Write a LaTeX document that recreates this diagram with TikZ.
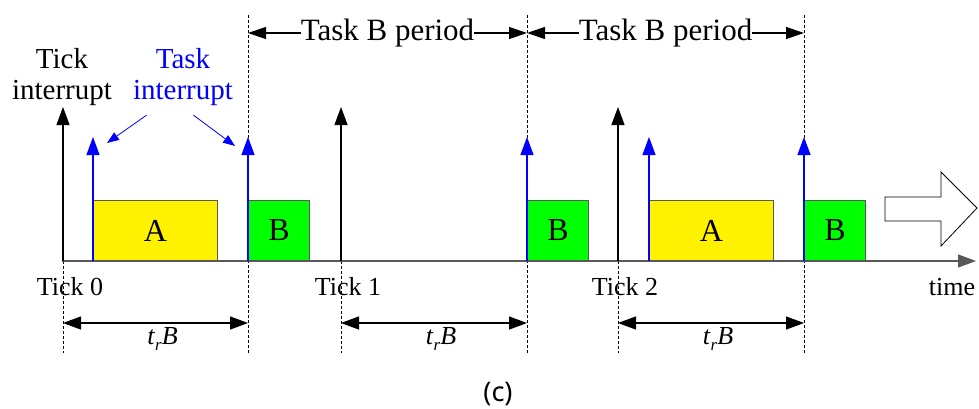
\documentclass[tikz,border=0pt]{standalone}
\usepackage{fontspec}
\setmainfont{Liberation Serif}
\newfontfamily\capfont{Noto Sans}
\usetikzlibrary{arrows.meta}

\begin{document}
\begin{tikzpicture}[x=1pt, y=-1pt, >={Triangle[length=18pt,width=13pt]},
	task/.style={draw=black!65, line width=1pt, minimum height=60pt, inner sep=0pt, anchor=south west, font=\fontsize{32}{36}\selectfont},
	taskA/.style={task, fill=yellow, minimum width=124pt},
	taskB/.style={task, fill=green, minimum width=61pt},
	guide/.style={line width=0.7pt, dash pattern=on 3pt off 2pt},
	tickirq/.style={->, line width=1.2pt},
	taskirq/.style={->, blue, line width=1.2pt},
	span/.style={<->, line width=1.2pt},
	small/.style={font=\fontsize{26}{30}\selectfont},
	big/.style={font=\fontsize{29}{35}\selectfont}]
	\useasboundingbox (0,0) rectangle (979,408);
	% guide lines
	\foreach \x in {248,527,804} \draw[guide] (\x,15) -- (\x,353);
	\foreach \x in {63,341,618} \draw[guide] (\x,261) -- (\x,353);
	% time axis
	\coordinate (o) at (62,261);
	\coordinate (tend) at (976,261);
	\draw[->, black!65, line width=1.2pt] (o) -- (tend);
	\node[small] (time) at (952,287) {time};
	% tasks
	\node[taskA] (A1) at (93,261) {A};
	\node[taskB] (B1) at (248,261) {B};
	\node[taskB] (B2) at (527,261) {B};
	\node[taskA] (A2) at (649,261) {A};
	\node[taskB] (B3) at (804,261) {B};
	% tick interrupts
	\foreach \x/\n in {63/0,341/1,618/2} {
		\coordinate (t\n) at (\x,261);
		\coordinate (t\n top) at (\x,107);
		\draw[tickirq] (t\n) -- (t\n top);
		\node[small] (tick\n) at (\x+7,287) {Tick \n};
	}
	% task interrupts
	\foreach \x [count=\i] in {93,248,527,649,804} {
		\coordinate (s\i) at (\x,261);
		\coordinate (s\i top) at (\x,137);
		\draw[taskirq] (s\i) -- (s\i top);
	}
	% labels
	\node[big, align=center] (tickint) at (62,77) {Tick\\[-4pt]interrupt};
	\node[big, align=center, blue] (taskint) at (183,77) {Task\\[-4pt]interrupt};
	\coordinate (p1) at (107,143);
	\coordinate (p2) at (235,146);
	\draw[->, blue, line width=0.8pt, >={Triangle[length=12pt,width=9pt]}] (taskint.south west) ++(17,6) -- (p1);
	\draw[->, blue, line width=0.8pt, >={Triangle[length=12pt,width=9pt]}] (taskint.south east) ++(-43,6) -- (p2);
	% periods
	\coordinate (q1) at (248,33);
	\coordinate (q2) at (527,33);
	\coordinate (q3) at (804,33);
	\draw[span, >={Triangle[length=18pt,width=12pt]}] (q1) -- node[font=\fontsize{31}{36}\selectfont, fill=white, inner sep=0pt] (per1) {Task B period} (q2);
	\draw[span, >={Triangle[length=18pt,width=12pt]}] (q2) -- node[font=\fontsize{31}{36}\selectfont, fill=white, inner sep=0pt] (per2) {Task B period} (q3);
	% response times
	\foreach \a/\b/\i in {63/248/1,341/527/2,618/804/3} {
		\coordinate (r\i a) at (\a,323);
		\coordinate (r\i b) at (\b,323);
		\draw[span] (r\i a) -- (r\i b);
		\node[small] (resp\i) at ({(\a+\b)/2+7},339) {\textit{t}\raisebox{-6pt}{\fontsize{17}{20}\selectfont\textit{r}}\textit{B}};
	}
	% continuation
	\draw[line width=0.8pt, fill=white] (885,197) -- (941,197) -- (941,172) -- (977,208) -- (941,246) -- (941,221) -- (885,221) -- cycle;
	\node[font=\capfont\fontsize{27}{30}\selectfont] (cap) at (498,394) {(c)};
\end{tikzpicture}
\end{document}
